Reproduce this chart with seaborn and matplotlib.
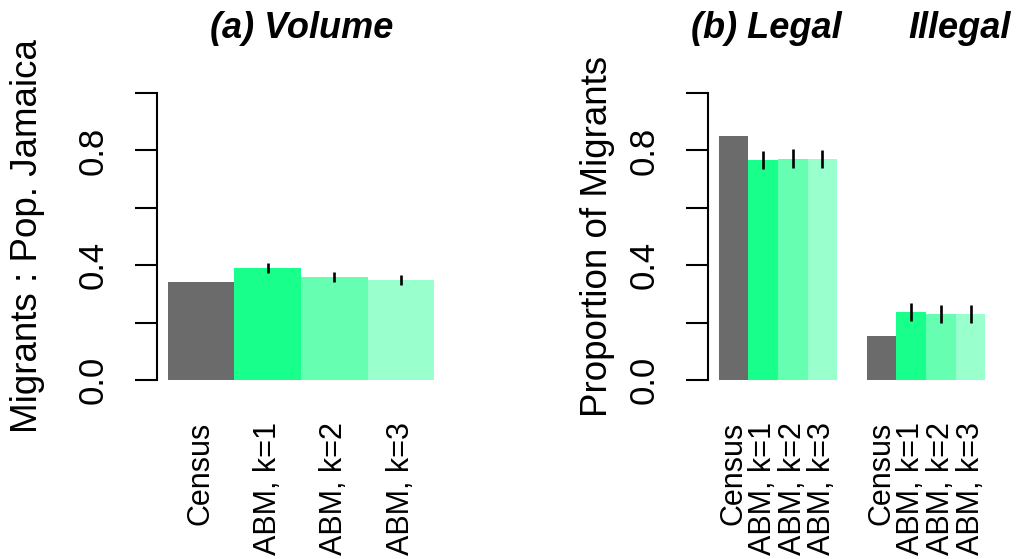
import numpy as np
import pandas as pd
import matplotlib
matplotlib.use("Agg")
import matplotlib.pyplot as plt
import seaborn as sns

sns.set_theme(style="white")
plt.rcParams["font.family"] = ["Liberation Sans", "DejaVu Sans"]
plt.rcParams["text.color"] = "black"
plt.rcParams["axes.labelcolor"] = "black"
plt.rcParams["xtick.color"] = "black"
plt.rcParams["ytick.color"] = "black"

# ---- data -------------------------------------------------------------
categories = ["Census", "ABM, k=1", "ABM, k=2", "ABM, k=3"]

# (a) volume of migrants relative to the population of Jamaica
volume = [0.341, 0.390, 0.359, 0.348]
volume_lo = [np.nan, 0.372, 0.340, 0.330]
volume_hi = [np.nan, 0.409, 0.375, 0.366]

# (b) proportion of migrants that are legal / illegal
legal = [0.849, 0.767, 0.770, 0.770]
legal_lo = [np.nan, 0.734, 0.739, 0.738]
legal_hi = [np.nan, 0.797, 0.804, 0.801]

illegal = [0.152, 0.237, 0.230, 0.230]
illegal_lo = [np.nan, 0.204, 0.197, 0.200]
illegal_hi = [np.nan, 0.267, 0.262, 0.262]

groups_b = ["Legal", "Illegal"]
y_ticks = [0.0, 0.2, 0.4, 0.6, 0.8, 1.0]
y_ticklabels = ["0.0", "", "0.4", "", "0.8", ""]

palette = {
    "Census": "#6b6b6b",
    "ABM, k=1": "#19ff8c",
    "ABM, k=2": "#66ffb2",
    "ABM, k=3": "#99ffcc",
}

# ---- figure -----------------------------------------------------------
W, H = 1025, 559
fig = plt.figure(figsize=(W / 100, H / 100), dpi=100)


def px_axes(x0, x1, ytop, ybot):
    return fig.add_axes([x0 / W, 1 - ybot / H, (x1 - x0) / W, (ybot - ytop) / H])


ax_a = px_axes(157, 445, 81.5, 391.5)
ax_b = px_axes(708, 996, 81.5, 391.5)

TICK_FS = 25
XTICK_FS = 22
LABEL_FS = 26.5
TITLE_FS = 26

# panel (a)
df_a = pd.DataFrame({"model": categories, "value": volume,
                     "pos": np.arange(len(categories), dtype=float)})
sns.barplot(data=df_a, x="pos", y="value", hue="model", palette=palette,
            native_scale=True, dodge=False, width=1.0, saturation=1,
            linewidth=0, errorbar=None, legend=False, ax=ax_a)
ax_a.vlines(df_a["pos"], volume_lo, volume_hi, color="black", lw=1.9)
ax_a.set_xlim(-0.5 - 0.16, len(categories) - 0.5 + 0.16)
ax_a.set_xticks(df_a["pos"])
ax_a.set_xticklabels(categories)
ax_a.set_ylabel("Migrants : Pop. Jamaica", fontsize=LABEL_FS)
ax_a.yaxis.set_label_coords((45 - 157) / 288, 0.5)

# panel (b)
rows = []
for g, (vals, offset) in enumerate([(legal, 0), (illegal, 5)]):
    for i, (c, v) in enumerate(zip(categories, vals)):
        rows.append({"group": groups_b[g], "model": c, "value": v,
                     "pos": float(offset + i)})
df_b = pd.DataFrame(rows)
sns.barplot(data=df_b, x="pos", y="value", hue="model", palette=palette,
            native_scale=True, dodge=False, width=1.0, saturation=1,
            linewidth=0, errorbar=None, legend=False, ax=ax_b)
ax_b.vlines(df_b["pos"], legal_lo + illegal_lo, legal_hi + illegal_hi,
            color="black", lw=1.9)
ax_b.set_xlim(-0.5 - 0.36, 8.5 + 0.36)
ax_b.set_xticks(df_b["pos"])
ax_b.set_xticklabels(df_b["model"])
ax_b.set_ylabel("Proportion of Migrants", fontsize=LABEL_FS)
ax_b.yaxis.set_label_coords((615 - 708) / 288, 0.5)

for ax in (ax_a, ax_b):
    ax.set_ylim(-0.04, 1.04)
    ax.set_xlabel("")
    ax.set_yticks(y_ticks)
    ax.set_yticklabels(y_ticklabels)
    for side in ("top", "right", "bottom"):
        ax.spines[side].set_visible(False)
    ax.spines["left"].set_bounds(0, 1)
    ax.spines["left"].set_linewidth(1.5)
    ax.spines["left"].set_color("black")
    ax.tick_params(axis="y", left=True, length=16, width=1.5, color="black",
                   labelsize=TICK_FS, labelrotation=90, pad=18)
    for t in ax.get_yticklabels():
        t.set_verticalalignment("center")
    ax.tick_params(axis="x", bottom=False, length=0, labelsize=XTICK_FS,
                   labelrotation=90, pad=22)
    ax.set_facecolor("white")

# panel titles
fig.text(302 / W, 1 - 38 / H, "(a) Volume", ha="center", va="baseline",
         fontsize=TITLE_FS, fontweight="bold", fontstyle="italic")
fig.text(766 / W, 1 - 38 / H, "(b) Legal", ha="center", va="baseline",
         fontsize=TITLE_FS, fontweight="bold", fontstyle="italic")
fig.text(960 / W, 1 - 38 / H, "Illegal", ha="center", va="baseline",
         fontsize=TITLE_FS, fontweight="bold", fontstyle="italic")

fig.savefig("out.png", dpi=100, facecolor="white")
